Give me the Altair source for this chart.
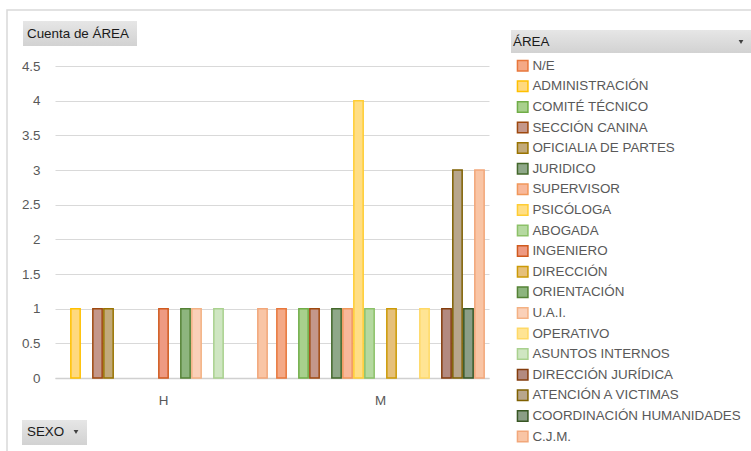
import altair as alt
import pandas as pd

# Categories of the pivot (series order) and their colours
areas = [
    "N/E", "ADMINISTRACIÓN", "COMITÉ TÉCNICO", "SECCIÓN CANINA",
    "OFICIALIA DE PARTES", "JURIDICO", "SUPERVISOR", "PSICÓLOGA",
    "ABOGADA", "INGENIERO", "DIRECCIÓN", "ORIENTACIÓN", "U.A.I.",
    "OPERATIVO", "ASUNTOS INTERNOS", "DIRECCIÓN JURÍDICA",
    "ATENCIÓN A VICTIMAS", "COORDINACIÓN HUMANIDADES", "C.J.M.",
]
fills = [
    "#F4A986", "#FFD97F", "#A8D08D", "#C4978A", "#C2AA7A", "#8FA889",
    "#F8B89A", "#FFDE85", "#B5D9A0", "#EE9A82", "#E6C07A", "#8DB57E",
    "#FAD0B8", "#FFE494", "#CFE6C2", "#B38A80", "#B8A68C", "#8B9E87",
    "#F9C5A5",
]
strokes = [
    "#E8773B", "#FFC000", "#70AD47", "#9E480E", "#997300", "#43682B",
    "#F1975A", "#FFCD33", "#8CC168", "#D05A1E", "#CC9A06", "#548235",
    "#F4B183", "#FFD966", "#A9D18E", "#843C0C", "#7F6000", "#375623",
    "#F2A77A",
]

# Counts per SEXO (only non-empty cells)
h_areas = ["ADMINISTRACIÓN", "SECCIÓN CANINA", "OFICIALIA DE PARTES",
           "INGENIERO", "ORIENTACIÓN", "U.A.I.", "ASUNTOS INTERNOS", "C.J.M."]
h_counts = [1, 1, 1, 1, 1, 1, 1, 1]
m_areas = ["N/E", "COMITÉ TÉCNICO", "SECCIÓN CANINA", "JURIDICO",
           "SUPERVISOR", "PSICÓLOGA", "ABOGADA", "DIRECCIÓN", "OPERATIVO",
           "DIRECCIÓN JURÍDICA", "ATENCIÓN A VICTIMAS",
           "COORDINACIÓN HUMANIDADES", "C.J.M."]
m_counts = [1, 1, 1, 1, 1, 4, 1, 1, 1, 1, 3, 1, 3]
y_ticks = [0, 0.5, 1, 1.5, 2, 2.5, 3, 3.5, 4, 4.5]

df = pd.DataFrame({
    "sexo": ["H"] * len(h_areas) + ["M"] * len(m_areas),
    "area": h_areas + m_areas,
    "cuenta": h_counts + m_counts,
})

FONT = "Liberation Sans"
GREY = "#595959"
FS = 13.4

legend_cfg = alt.Legend(
    title=None, orient="none", legendX=461, legendY=-7,
    symbolType="square", symbolSize=110, symbolStrokeWidth=1.5,
    labelFont=FONT, labelFontSize=FS, labelColor=GREY,
    labelOffset=3, rowPadding=3.6, padding=0, labelLimit=300,
)

bars = alt.Chart(df).mark_bar(strokeWidth=1.5).encode(
    x=alt.X("sexo:N", title=None,
            scale=alt.Scale(domain=["H", "M"], paddingInner=0, paddingOuter=0),
            axis=alt.Axis(labelAngle=0, ticks=False, grid=False,
                          domainColor="#d0d0d0", domainWidth=1.5,
                          labelFont=FONT, labelFontSize=FS,
                          labelColor=GREY, labelPadding=15)),
    xOffset=alt.XOffset("area:N",
                        scale=alt.Scale(domain=areas, paddingInner=0.15,
                                        paddingOuter=0.44)),
    y=alt.Y("cuenta:Q", title=None,
            scale=alt.Scale(domain=[0, 4.5], nice=False),
            axis=alt.Axis(values=y_ticks, labelExpr="datum.value + ''",
                          domain=False, ticks=False, gridColor="#d9d9d9",
                          labelFont=FONT, labelFontSize=FS, labelColor=GREY,
                          labelPadding=15)),
    fill=alt.Fill("area:N", scale=alt.Scale(domain=areas, range=fills),
                  legend=legend_cfg),
    stroke=alt.Stroke("area:N", scale=alt.Scale(domain=areas, range=strokes),
                      legend=legend_cfg),
)

one = pd.DataFrame({"t": [""]})

# Chart frame
frame = alt.Chart(one).mark_rect(fill="transparent", stroke="#d9d9d9",
                                 strokeWidth=1.5).encode(
    x=alt.value(-48), x2=alt.value(706), y=alt.value(-56), y2=alt.value(395))

button_fill = alt.LinearGradient(
    gradient="linear", x1=0, x2=0, y1=0, y2=1,
    stops=[alt.GradientStop(color="#e6e6e6", offset=0),
           alt.GradientStop(color="#d2d2d2", offset=1)])


def button(x0, x1, y0, y1):
    return alt.Chart(one).mark_rect(fill=button_fill).encode(
        x=alt.value(x0), x2=alt.value(x1), y=alt.value(y0), y2=alt.value(y1))


def label(text, x, y):
    return alt.Chart(pd.DataFrame({"t": [text]})).mark_text(
        align="left", baseline="middle", font=FONT, fontSize=FS,
        color="#1a1a1a").encode(x=alt.value(x), y=alt.value(y), text="t:N")


def arrow(x, y):
    return alt.Chart(one).mark_point(
        shape="triangle-down", filled=True, size=22, color="#404040",
        opacity=1).encode(x=alt.value(x), y=alt.value(y))


layers = [
    frame,
    button(-32, 82, -45, -20), label("Cuenta de ÁREA", -28, -32.5),
    button(456, 710, -36, -13), label("ÁREA", 458, -24), arrow(686, -24),
    button(-33, 32, 354, 379), label("SEXO", -28, 366), arrow(21, 366),
    bars,
]

chart = alt.layer(*layers).properties(
    width=434, height=312,
    background="white",
    autosize=alt.AutoSizeParams(type="none"),
    padding={"left": 55, "top": 66, "right": 262, "bottom": 73},
).configure_view(stroke=None)

chart.save("out.html", embed_options={"renderer": "svg", "actions": False})
